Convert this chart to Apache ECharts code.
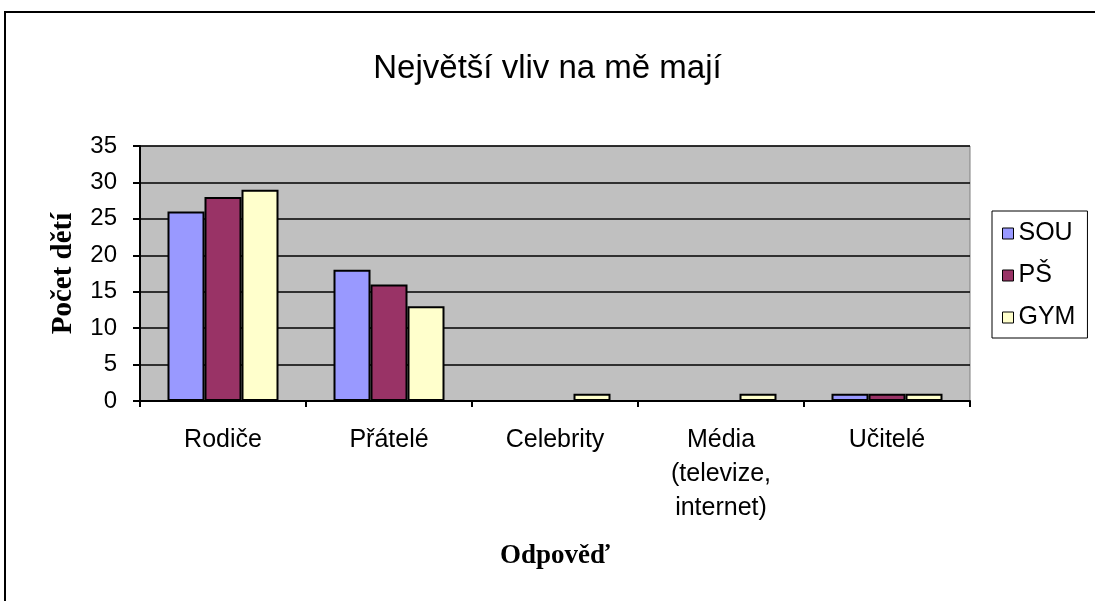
<!DOCTYPE html>
<html><head><meta charset="utf-8">
<script src="https://cdn.jsdelivr.net/npm/echarts@6/dist/echarts.min.js"></script>
<style>html,body{margin:0;padding:0;background:#fff}#c{width:1095px;height:601px}</style>
</head><body><div id="c"></div>
<script>
const categories = ['Rodiče', 'Přátelé', 'Celebrity', 'Média\n(televize,\ninternet)', 'Učitelé'];
const seriesNames = ['SOU', 'PŠ', 'GYM'];
const sou = [26, 18, 0, 0, 1];
const ps = [28, 16, 0, 0, 1];
const gym = [29, 13, 1, 1, 1];
const colors = ['#9999FF', '#993366', '#FFFFCC'];
const yTicks = [0, 35, 5];

const chart = echarts.init(document.getElementById('c'), null, {renderer: 'canvas'});
const font = 'Liberation Sans, Arial, sans-serif';
const serif = 'Liberation Serif, Times New Roman, serif';
const mk = (name, data, i) => ({
  name, type: 'bar', data, barWidth: 37, barGap: '0%',
  itemStyle: {color: colors[i], borderColor: '#000', borderWidth: 2},
  emphasis: {disabled: true}, animation: false
});
chart.setOption({
  animation: false,
  title: {text: 'Největší vliv na mě mají', left: 'center', top: 47,
    textStyle: {fontFamily: font, fontSize: 33, fontWeight: 'normal', color: '#000'}},
  graphic: [{type: 'rect', shape: {x: 5, y: 12, width: 1200, height: 700},
    style: {fill: 'none', stroke: '#000', lineWidth: 2}, silent: true}],
  legend: {orient: 'vertical', left: 992, top: 211, icon: 'rect', itemWidth: 11, itemHeight: 11,
    itemGap: 17, itemTextGap: 14, padding: [10, 12, 8, 10], borderColor: '#000', borderWidth: 1,
    backgroundColor: '#fff', itemStyle: {borderColor: '#000', borderWidth: 1},
    textStyle: {fontFamily: font, fontSize: 25, color: '#000', lineHeight: 25},
    data: seriesNames},
  grid: {left: 140, right: 125, top: 146, bottom: 200, backgroundColor: '#C0C0C0', show: true,
    borderColor: '#808080', borderWidth: 1},
  xAxis: {type: 'category', data: categories, name: 'Odpověď', nameLocation: 'middle', nameGap: 142,
    nameTextStyle: {fontFamily: serif, fontSize: 27, fontWeight: 'bold', color: '#000'},
    axisLine: {lineStyle: {color: '#000', width: 2}},
    axisTick: {show: true, length: 6, lineStyle: {color: '#000', width: 2}},
    axisLabel: {fontFamily: font, fontSize: 25, color: '#000', margin: 22, lineHeight: 34, interval: 0}},
  yAxis: {type: 'value', min: yTicks[0], max: yTicks[1], interval: yTicks[2], name: 'Počet dětí',
    nameLocation: 'middle', nameGap: 62,
    nameTextStyle: {fontFamily: serif, fontSize: 29, fontWeight: 'bold', color: '#000'},
    axisLine: {show: true, lineStyle: {color: '#000', width: 2}},
    axisTick: {show: true, length: 7, lineStyle: {color: '#000', width: 2}},
    splitLine: {lineStyle: {color: '#000', width: 1.5}},
    axisLabel: {fontFamily: font, fontSize: 24, color: '#000', margin: 23}},
  series: [mk('SOU', sou, 0), mk('PŠ', ps, 1), mk('GYM', gym, 2)]
});
</script></body></html>
